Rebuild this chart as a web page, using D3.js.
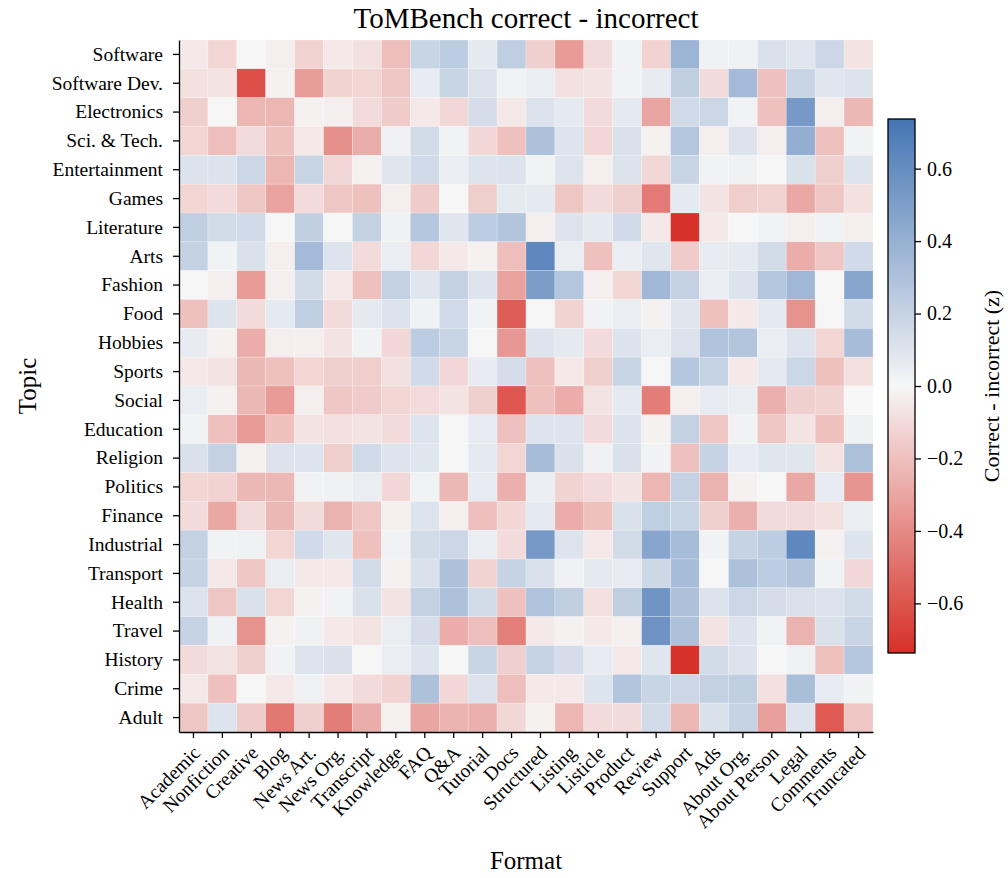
<!DOCTYPE html>
<html><head><meta charset="utf-8">
<script src="https://cdn.jsdelivr.net/npm/d3@7"></script>
<style>
body{margin:0;background:#fff;}
svg text{font-family:"Liberation Serif","DejaVu Serif",serif;fill:#000;}
</style>
</head><body>
<svg id="chart" width="1008" height="878"></svg>
<script>
const topics = ["Software","Software Dev.","Electronics","Sci. & Tech.","Entertainment","Games","Literature","Arts","Fashion","Food","Hobbies","Sports","Social","Education","Religion","Politics","Finance","Industrial","Transport","Health","Travel","History","Crime","Adult"];
const formats = ["Academic","Nonfiction","Creative","Blog","News Art.","News Org.","Transcript","Knowledge","FAQ","Q&A","Tutorial","Docs","Structured","Listing","Listicle","Product","Review","Support","Ads","About Org.","About Person","Legal","Comments","Truncated"];

const rowSoftware      = [-0.05,-0.12,0.0,-0.03,-0.13,-0.05,-0.08,-0.21,0.19,0.24,0.07,0.23,-0.14,-0.34,-0.1,0.02,-0.13,0.37,0.03,0.03,0.12,0.09,0.18,-0.07];
const rowSoftwareDev   = [-0.08,-0.07,-0.62,-0.02,-0.33,-0.13,-0.12,-0.18,0.06,0.19,0.11,0.02,0.05,-0.08,-0.07,0.02,0.06,0.23,-0.1,0.34,-0.2,0.19,0.09,0.11];
const rowElectronics   = [-0.14,0.0,-0.24,-0.24,-0.02,-0.03,-0.1,-0.16,-0.05,-0.11,0.14,-0.05,0.11,0.07,-0.1,0.07,-0.3,0.16,0.18,0.02,-0.2,0.53,-0.03,-0.23];
const rowSciTech       = [-0.12,-0.21,-0.1,-0.2,-0.05,-0.38,-0.27,0.03,0.15,0.02,-0.11,-0.2,0.3,0.1,-0.11,0.12,-0.02,0.27,-0.03,0.11,-0.03,0.41,-0.2,0.02];
const rowEntertainment = [0.11,0.11,0.18,-0.24,0.19,-0.11,-0.02,0.09,0.16,0.05,0.1,0.11,0.02,0.1,-0.03,0.11,-0.11,0.19,0.02,0.03,0.0,0.12,-0.14,0.1];
const rowGames         = [-0.12,-0.1,-0.18,-0.31,-0.1,-0.18,-0.2,-0.03,-0.16,0.0,-0.15,0.07,0.07,-0.18,-0.1,-0.14,-0.46,0.07,-0.07,-0.15,-0.13,-0.29,-0.18,-0.08];
const rowLiterature    = [0.23,0.15,0.16,0.0,0.22,0.0,0.21,0.03,0.27,0.09,0.24,0.28,-0.03,0.1,0.07,0.16,-0.05,-0.73,-0.05,0.0,0.02,-0.03,0.02,-0.03];
const rowArts          = [0.21,0.02,0.12,-0.03,0.34,0.1,-0.1,0.05,-0.11,-0.05,-0.02,-0.21,0.63,0.05,-0.2,0.05,0.09,-0.16,0.06,0.07,0.15,-0.27,-0.18,0.16];
const rowFashion       = [0.0,-0.03,-0.34,-0.03,0.15,-0.05,-0.2,0.21,0.09,0.21,0.1,-0.31,0.51,0.27,-0.03,-0.12,0.36,0.21,0.05,0.11,0.27,0.36,0.0,0.46];
const rowFood          = [-0.2,0.1,-0.1,0.07,0.23,-0.1,0.07,0.11,0.03,0.16,0.02,-0.57,0.0,-0.13,0.02,0.05,-0.02,0.09,-0.2,-0.05,0.07,-0.37,0.0,0.15];
const rowHobbies       = [0.06,-0.02,-0.27,-0.03,-0.03,-0.07,0.02,-0.11,0.24,0.19,0.0,-0.35,0.1,0.07,-0.1,0.11,0.05,0.11,0.29,0.28,0.05,0.1,-0.12,0.33];
const rowSports        = [-0.05,-0.07,-0.23,-0.2,-0.12,-0.14,-0.15,-0.08,0.16,-0.11,0.06,0.14,-0.2,-0.05,-0.14,0.19,0.0,0.27,0.2,-0.05,0.07,0.18,-0.2,-0.08];
const rowSocial        = [0.05,-0.02,-0.23,-0.34,-0.03,-0.18,-0.16,-0.12,-0.1,-0.07,-0.14,-0.59,-0.2,-0.27,-0.07,0.07,-0.45,-0.03,0.06,0.05,-0.26,-0.14,-0.13,0.0];
const rowEducation     = [0.02,-0.2,-0.34,-0.2,-0.07,-0.08,-0.07,-0.1,0.1,0.0,0.06,-0.2,0.1,0.1,-0.1,0.11,-0.02,0.21,-0.18,0.02,-0.18,-0.07,-0.2,0.03];
const rowReligion      = [0.12,0.21,-0.02,0.11,0.1,-0.15,0.16,0.1,0.09,0.0,0.07,-0.12,0.33,0.12,0.03,0.12,0.02,-0.2,0.2,0.06,0.09,0.09,-0.07,0.31];
const rowPolitics      = [-0.12,-0.13,-0.23,-0.23,0.02,0.03,0.05,-0.11,0.02,-0.23,0.06,-0.26,0.05,-0.13,-0.1,-0.07,-0.24,0.21,-0.25,-0.02,0.0,-0.29,0.06,-0.36];
const rowFinance       = [-0.1,-0.29,-0.1,-0.23,-0.1,-0.25,-0.18,-0.03,0.1,-0.03,-0.21,-0.11,0.07,-0.27,-0.2,0.12,0.23,0.19,-0.14,-0.26,-0.1,-0.1,-0.08,0.05];
const rowIndustrial    = [0.21,0.02,0.03,-0.12,0.16,0.09,-0.2,0.02,0.15,0.18,0.05,-0.1,0.53,0.1,-0.05,0.15,0.46,0.33,0.02,0.2,0.24,0.63,-0.02,0.1];
const rowTransport     = [0.2,-0.05,-0.18,0.05,-0.05,-0.05,0.15,-0.02,0.12,0.3,-0.13,0.2,0.12,0.03,0.07,0.06,0.17,0.33,0.0,0.3,0.24,0.28,0.02,-0.11];
const rowHealth        = [0.11,-0.18,0.12,-0.12,-0.02,0.02,0.12,-0.07,0.21,0.3,0.15,-0.2,0.29,0.23,-0.08,0.23,0.56,0.31,0.11,0.18,0.14,0.12,0.11,0.15];
const rowTravel        = [0.2,0.03,-0.37,-0.02,0.03,-0.05,-0.07,0.05,0.14,-0.27,-0.21,-0.44,-0.05,-0.02,-0.05,-0.03,0.57,0.3,-0.07,0.11,0.02,-0.25,0.12,0.19];
const rowHistory       = [-0.1,-0.07,-0.14,0.02,0.1,0.12,0.0,0.05,0.1,0.0,0.19,-0.14,0.2,0.14,0.06,-0.05,0.09,-0.73,0.15,0.11,0.0,0.03,-0.2,0.27];
const rowCrime         = [-0.05,-0.2,0.0,-0.05,0.03,-0.05,-0.1,-0.13,0.3,-0.11,0.11,-0.21,-0.05,-0.05,0.1,0.28,0.19,0.17,0.21,0.23,-0.08,0.32,0.06,0.02];
const rowAdult         = [-0.18,0.1,-0.16,-0.47,-0.14,-0.45,-0.27,-0.02,-0.3,-0.25,-0.26,-0.11,-0.02,-0.24,-0.1,-0.1,0.15,-0.23,0.12,0.2,-0.32,0.1,-0.58,-0.18];

const values = [rowSoftware,rowSoftwareDev,rowElectronics,rowSciTech,rowEntertainment,rowGames,rowLiterature,rowArts,rowFashion,rowFood,rowHobbies,rowSports,rowSocial,rowEducation,rowReligion,rowPolitics,rowFinance,rowIndustrial,rowTransport,rowHealth,rowTravel,rowHistory,rowCrime,rowAdult];

const colorTicks = [-0.6,-0.4,-0.2,0.0,0.2,0.4,0.6];
const vLimit = 0.737;
const titleText = "ToMBench correct - incorrect";
const xLabel = "Format";
const yLabel = "Topic";
const cbLabel = "Correct - incorrect (z)";

const svg = d3.select("#chart");
const plot = {left:179, top:40, right:873, bottom:732};
const x = d3.scaleBand().domain(formats).range([plot.left, plot.right]);
const y = d3.scaleBand().domain(topics).range([plot.top, plot.bottom]);
const color = d3.scaleLinear().domain([-vLimit, 0, vLimit]).range(["#d73027", "#f6f6f6", "#4575b4"]).clamp(true);

const cells = [];
values.forEach((row, i) => row.forEach((v, j) => cells.push({t: topics[i], f: formats[j], v})));

svg.append("g").selectAll("rect").data(cells).join("rect")
  .attr("x", d => x(d.f)).attr("y", d => y(d.t))
  .attr("width", x.bandwidth()).attr("height", y.bandwidth())
  .attr("fill", d => color(d.v))
  .attr("stroke", "#ffffff").attr("stroke-opacity", 0.35).attr("stroke-width", 0.6);

// axes
const yAxis = svg.append("g").attr("transform", `translate(${plot.left},0)`)
  .call(d3.axisLeft(y).tickSize(6).tickSizeOuter(0).tickPadding(10));
const xAxis = svg.append("g").attr("transform", `translate(0,${plot.bottom})`)
  .call(d3.axisBottom(x).tickSize(6).tickSizeOuter(0).tickPadding(4));
[yAxis, xAxis].forEach(a => {
  a.select(".domain").attr("stroke", "#000").attr("stroke-width", 1.3);
  a.selectAll(".tick line").attr("stroke", "#000").attr("stroke-width", 1.3);
  a.selectAll("text").style("font-family", '"Liberation Serif", serif').style("font-size", "19.5px").attr("fill", "#000");
});
xAxis.selectAll(".tick text")
  .attr("text-anchor", "end")
  .attr("dy", null)
  .attr("y", 0)
  .attr("transform", "translate(8,22) rotate(-45)");

// title and labels
svg.append("text").attr("x", (plot.left + plot.right) / 2).attr("y", 28)
  .attr("text-anchor", "middle").style("font-size", "29px").text(titleText);
svg.append("text").attr("x", (plot.left + plot.right) / 2).attr("y", 869)
  .attr("text-anchor", "middle").style("font-size", "25px").text(xLabel);
svg.append("text").attr("transform", `translate(36,${(plot.top + plot.bottom) / 2}) rotate(-90)`)
  .attr("text-anchor", "middle").style("font-size", "25px").text(yLabel);

// colorbar
const cb = {x: 888, w: 27, top: 119, bottom: 653};
const cbScale = d3.scaleLinear().domain([-vLimit, vLimit]).range([cb.bottom, cb.top]);
const defs = svg.append("defs");
const grad = defs.append("linearGradient").attr("id", "cbgrad")
  .attr("x1", 0).attr("y1", 1).attr("x2", 0).attr("y2", 0);
d3.range(0, 1.0001, 0.05).forEach(t => {
  grad.append("stop").attr("offset", t).attr("stop-color", color(-vLimit + t * 2 * vLimit));
});
svg.append("rect").attr("x", cb.x).attr("y", cb.top).attr("width", cb.w).attr("height", cb.bottom - cb.top)
  .attr("fill", "url(#cbgrad)").attr("stroke", "#000").attr("stroke-width", 1.3);
const cbAxis = svg.append("g").attr("transform", `translate(${cb.x + cb.w},0)`)
  .call(d3.axisRight(cbScale).tickValues(colorTicks).tickSize(6).tickPadding(6)
    .tickFormat(d => d3.format(".1f")(d).replace("-", "\u2212")));
cbAxis.select(".domain").remove();
cbAxis.selectAll(".tick line").attr("stroke", "#000").attr("stroke-width", 1.3);
cbAxis.selectAll("text").style("font-family", '"Liberation Serif", serif').style("font-size", "20px").attr("fill", "#000");
svg.append("text").attr("transform", `translate(999,${(cb.top + cb.bottom) / 2}) rotate(-90)`)
  .attr("text-anchor", "middle").style("font-size", "22px").text(cbLabel);
</script>
</body></html>
